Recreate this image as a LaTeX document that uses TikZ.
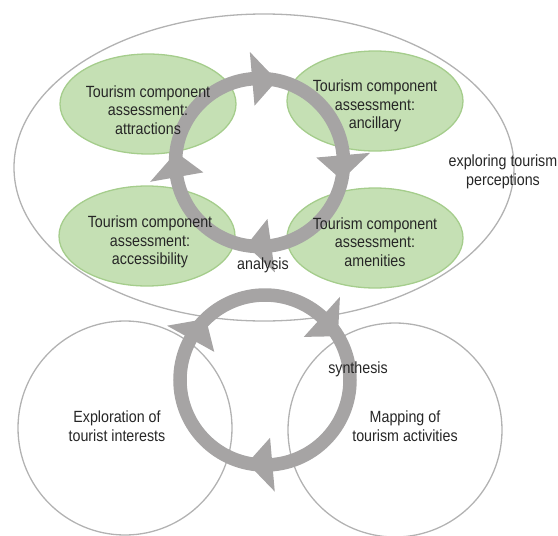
\documentclass[tikz,border=0pt]{standalone}
\usepackage{fontspec}
\setmainfont{Liberation Sans}
\usetikzlibrary{shapes.geometric,calc}
\definecolor{ringgray}{RGB}{166,164,164}
\definecolor{edgegray}{RGB}{178,178,178}
\definecolor{compfill}{RGB}{197,224,180}
\definecolor{compedge}{RGB}{165,205,140}
\tikzset{
  zoneln/.style={draw=edgegray, line width=1.3pt, inner sep=0pt},
  compbox/.style={ellipse, draw=compedge, fill=compfill, line width=1.3pt,
    minimum width=176pt, minimum height=100pt, inner sep=0pt},
  ringln/.style={draw=ringgray, line width=13.5pt},
  lbl/.style={font=\fontsize{16.2}{18.5}\selectfont, align=center, inner sep=0pt,
    xscale=0.88, transform shape, text=black!85},
}

\begin{document}
\begin{tikzpicture}[x=1pt, y=-1pt]
  \useasboundingbox (0,0) rectangle (558,536);
  % outer zone and the two lower zones
  \node[ellipse, zoneln, minimum width=500pt, minimum height=307pt] (perc) at (264,167.5) {};
  \node[circle, zoneln, minimum size=214pt] (intr) at (125,428) {};
  \node[circle, zoneln, minimum size=214pt] (actv) at (395,430) {};
  % the four components
  \node[compbox] (attr) at (148,104) {};
  \node[compbox] (ancl) at (375,101) {};
  \node[compbox] (acce) at (147,236) {};
  \node[compbox] (amen) at (375,238) {};
  % analysis ring
  \coordinate (topc) at (259.5,162.5);
  \draw[ringln] (topc) circle[radius=84];
  \foreach \ang [evaluate=\ang as \tip using \ang+17] in {265,355,82,170}
    \fill[ringgray] ([shift={(\ang:57)}]topc) -- ([shift={(\ang:111)}]topc)
      -- ([shift={(\tip:84)}]topc) -- cycle;
  % synthesis ring
  \coordinate (lowc) at (265,380);
  \draw[ringln] (lowc) circle[radius=85];
  \foreach \ang [evaluate=\ang as \tip using \ang+17] in {312,209,85}
    \fill[ringgray] ([shift={(\ang:58)}]lowc) -- ([shift={(\ang:112)}]lowc)
      -- ([shift={(\tip:85)}]lowc) -- cycle;
  % labels
  \node[lbl] (attrt) at (148,110) {Tourism component\\assessment:\\attractions};
  \node[lbl] (anclt) at (375,106) {Tourism component\\assessment:\\ancillary};
  \node[lbl] (accet) at (150,242) {Tourism component\\assessment:\\accessibility};
  \node[lbl] (ament) at (375,242) {Tourism component\\assessment:\\amenities};
  \node[lbl] (perct) at (503,172) {exploring tourism\\perceptions};
  \node[lbl] (anal) at (263,265) {analysis};
  \node[lbl] (synt) at (358,369) {synthesis};
  \node[lbl] (intrt) at (117,426) {Exploration of\\tourist interests};
  \node[lbl] (actvt) at (405,426) {Mapping of\\tourism activities};
\end{tikzpicture}
\end{document}
